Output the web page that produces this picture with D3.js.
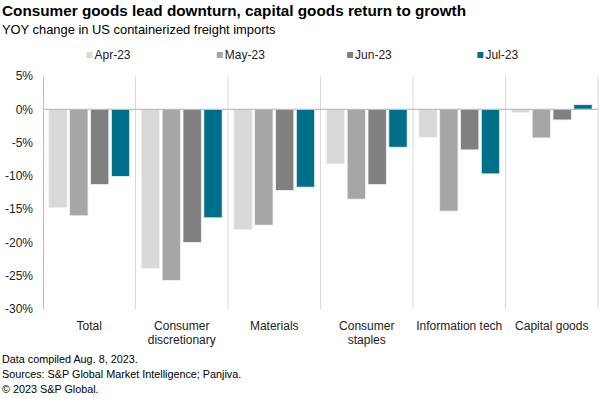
<!DOCTYPE html>
<html>
<head>
<meta charset="utf-8">
<script src="https://cdn.jsdelivr.net/npm/d3@7"></script>
<style>
  body { margin: 0; background: #fff; }
  svg { font-family: "Liberation Sans", Arial, sans-serif; }
</style>
</head>
<body>
<div id="chart"></div>
<script>
const categories = [['Total'], ['Consumer', 'discretionary'], ['Materials'],
  ['Consumer', 'staples'], ['Information tech'], ['Capital goods']];
const seriesNames = ['Apr-23', 'May-23', 'Jun-23', 'Jul-23'];
const apr = [-14.8, -23.9, -18.1, -8.2, -4.2, -0.5];
const may = [-16.0, -25.7, -17.4, -13.5, -15.3, -4.3];
const jun = [-11.3, -20.0, -12.2, -11.3, -6.1, -1.6];
const jul = [-10.1, -16.3, -11.7, -5.7, -9.7, 0.7];
const yTicks = [5, 0, -5, -10, -15, -20, -25, -30];
const colors = ['#d9d9d9', '#a6a6a6', '#808080', '#006f8a'];

const values = [apr, may, jun, jul];
const width = 600, height = 399;
const margin = { top: 76, right: 2, bottom: 90, left: 43 };

const svg = d3.select('#chart').append('svg')
  .attr('width', width).attr('height', height);

const x = d3.scaleBand().domain(d3.range(categories.length))
  .range([margin.left, width - margin.right]).paddingInner(0).paddingOuter(0);
const xInner = d3.scaleBand().domain(d3.range(seriesNames.length))
  .range([0, x.bandwidth()]).paddingInner(0.12).paddingOuter(0.28);
const y = d3.scaleLinear().domain([-30, 5])
  .range([height - margin.bottom, margin.top]);

// title + subtitle
svg.append('text').attr('x', 2).attr('y', 16)
  .attr('font-size', 15.3).attr('font-weight', 'bold').attr('fill', '#000')
  .text('Consumer goods lead downturn, capital goods return to growth');
svg.append('text').attr('x', 2).attr('y', 33.5)
  .attr('font-size', 12.9).attr('fill', '#000')
  .text('YOY change in US containerized freight imports');

// legend
const legend = svg.append('g').selectAll('g').data(seriesNames).join('g')
  .attr('transform', (d, i) => `translate(${86.5 + i * 130.3}, 55)`);
legend.append('rect').attr('x', 0).attr('y', -3).attr('width', 6).attr('height', 6)
  .attr('fill', (d, i) => colors[i]);
legend.append('text').attr('x', 8).attr('y', 4.3)
  .attr('font-size', 12).attr('fill', '#222').text(d => d);

// category separators
svg.append('g').selectAll('line')
  .data(d3.range(1, categories.length + 1)).join('line')
  .attr('x1', d => x(d) ?? width - margin.right)
  .attr('x2', d => x(d) ?? width - margin.right)
  .attr('y1', y(5)).attr('y2', y(-30))
  .attr('stroke', '#d9d9d9').attr('stroke-width', 1);

// y axis
const yAxis = svg.append('g').attr('transform', `translate(${margin.left},0)`)
  .call(d3.axisLeft(y).tickValues(yTicks).tickSize(0).tickPadding(10)
    .tickFormat(d => d + '%'));
yAxis.select('.domain').attr('stroke', '#bfbfbf');
yAxis.selectAll('text').attr('font-size', 12).attr('fill', '#222')
  .attr('font-family', '"Liberation Sans", Arial, sans-serif');

// bars
const groups = svg.append('g').selectAll('g').data(categories).join('g')
  .attr('transform', (d, i) => `translate(${x(i)},0)`);
groups.selectAll('rect')
  .data((d, i) => values.map((s, k) => ({ k, v: s[i] })))
  .join('rect')
  .attr('x', d => xInner(d.k))
  .attr('width', xInner.bandwidth())
  .attr('y', d => y(Math.max(0, d.v)))
  .attr('height', d => Math.abs(y(d.v) - y(0)))
  .attr('fill', d => colors[d.k])
  .attr('stroke', '#f2f2f2').attr('stroke-width', 0.8);

// zero line
svg.append('line').attr('x1', margin.left).attr('x2', width - margin.right)
  .attr('y1', y(0)).attr('y2', y(0)).attr('stroke', '#bfbfbf').attr('stroke-width', 1.2);

// category labels
const labels = svg.append('g').selectAll('text').data(categories).join('text')
  .attr('x', (d, i) => x(i) + x.bandwidth() / 2)
  .attr('y', 329.5).attr('text-anchor', 'middle')
  .attr('font-size', 12).attr('fill', '#222');
labels.selectAll('tspan').data(d => d).join('tspan')
  .attr('x', function () { return this.parentNode.getAttribute('x'); })
  .attr('dy', (d, i) => i === 0 ? 0 : 14.5)
  .text(d => d);

// footer
const notes = ['Data compiled Aug. 8, 2023.',
  'Sources: S&P Global Market Intelligence; Panjiva.',
  '\u00a9 2023 S&P Global.'];
svg.append('g').selectAll('text').data(notes).join('text')
  .attr('x', 2).attr('y', (d, i) => 363 + i * 15)
  .attr('font-size', 10.8).attr('fill', '#000').text(d => d);
</script>
</body>
</html>
